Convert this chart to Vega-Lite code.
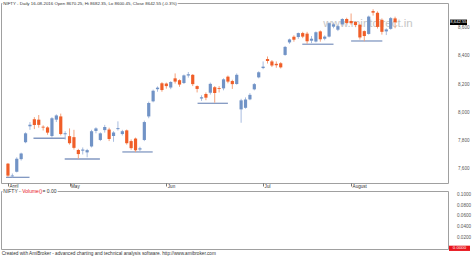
{
  "$schema": "https://vega.github.io/schema/vega-lite/v6.json",
  "background": "#ffffff",
  "padding": 0,
  "bounds": "flush",
  "spacing": 8,
  "config": {
    "view": {"stroke": "#a0a0a0", "strokeWidth": 1},
    "font": "Liberation Sans",
    "axis": {"labelFont": "Liberation Sans", "grid": false}
  },
  "datasets": {
    "ohlc": [
      {"idx": 0, "date": "2016-04-07", "open": 7640, "high": 7645, "low": 7545, "close": 7555},
      {"idx": 1, "date": "2016-04-08", "open": 7550, "high": 7570, "low": 7543, "close": 7556},
      {"idx": 2, "date": "2016-04-11", "open": 7582, "high": 7685, "low": 7578, "close": 7675},
      {"idx": 3, "date": "2016-04-12", "open": 7672, "high": 7718, "low": 7662, "close": 7712},
      {"idx": 4, "date": "2016-04-13", "open": 7792, "high": 7862, "low": 7785, "close": 7855},
      {"idx": 5, "date": "2016-04-18", "open": 7905, "high": 7935, "low": 7880, "close": 7916},
      {"idx": 6, "date": "2016-04-20", "open": 7955, "high": 7970, "low": 7885, "close": 7914},
      {"idx": 7, "date": "2016-04-21", "open": 7952, "high": 7985, "low": 7895, "close": 7915},
      {"idx": 8, "date": "2016-04-22", "open": 7902, "high": 7912, "low": 7875, "close": 7896},
      {"idx": 9, "date": "2016-04-25", "open": 7897, "high": 7905, "low": 7845, "close": 7860},
      {"idx": 10, "date": "2016-04-26", "open": 7836, "high": 7970, "low": 7822, "close": 7962},
      {"idx": 11, "date": "2016-04-27", "open": 7952, "high": 7990, "low": 7935, "close": 7982},
      {"idx": 12, "date": "2016-04-28", "open": 7975, "high": 7995, "low": 7840, "close": 7850},
      {"idx": 13, "date": "2016-04-29", "open": 7848, "high": 7870, "low": 7810, "close": 7856},
      {"idx": 14, "date": "2016-05-02", "open": 7835, "high": 7890, "low": 7775, "close": 7785},
      {"idx": 15, "date": "2016-05-03", "open": 7828, "high": 7880, "low": 7740, "close": 7752},
      {"idx": 16, "date": "2016-05-04", "open": 7737, "high": 7745, "low": 7675, "close": 7708},
      {"idx": 17, "date": "2016-05-05", "open": 7732, "high": 7755, "low": 7705, "close": 7740},
      {"idx": 18, "date": "2016-05-06", "open": 7720, "high": 7745, "low": 7685, "close": 7736},
      {"idx": 19, "date": "2016-05-09", "open": 7762, "high": 7880, "low": 7755, "close": 7870},
      {"idx": 20, "date": "2016-05-10", "open": 7872, "high": 7898, "low": 7855, "close": 7890},
      {"idx": 21, "date": "2016-05-11", "open": 7808, "high": 7862, "low": 7800, "close": 7855},
      {"idx": 22, "date": "2016-05-12", "open": 7878, "high": 7915, "low": 7860, "close": 7900},
      {"idx": 23, "date": "2016-05-13", "open": 7882, "high": 7895, "low": 7800, "close": 7815},
      {"idx": 24, "date": "2016-05-16", "open": 7836, "high": 7870, "low": 7795, "close": 7861},
      {"idx": 25, "date": "2016-05-17", "open": 7885, "high": 7940, "low": 7875, "close": 7892},
      {"idx": 26, "date": "2016-05-18", "open": 7850, "high": 7880, "low": 7840, "close": 7870},
      {"idx": 27, "date": "2016-05-19", "open": 7876, "high": 7882, "low": 7775, "close": 7785},
      {"idx": 28, "date": "2016-05-20", "open": 7800, "high": 7812, "low": 7738, "close": 7750},
      {"idx": 29, "date": "2016-05-23", "open": 7818, "high": 7825, "low": 7722, "close": 7735},
      {"idx": 30, "date": "2016-05-24", "open": 7740, "high": 7760, "low": 7728, "close": 7749},
      {"idx": 31, "date": "2016-05-25", "open": 7808, "high": 7945, "low": 7800, "close": 7935},
      {"idx": 32, "date": "2016-05-26", "open": 7975, "high": 8080, "low": 7962, "close": 8070},
      {"idx": 33, "date": "2016-05-27", "open": 8082, "high": 8165, "low": 8075, "close": 8157},
      {"idx": 34, "date": "2016-05-30", "open": 8168, "high": 8188, "low": 8150, "close": 8179},
      {"idx": 35, "date": "2016-05-31", "open": 8210, "high": 8218, "low": 8150, "close": 8162},
      {"idx": 36, "date": "2016-06-01", "open": 8208, "high": 8215, "low": 8172, "close": 8190},
      {"idx": 37, "date": "2016-06-02", "open": 8180, "high": 8225, "low": 8168, "close": 8219},
      {"idx": 38, "date": "2016-06-03", "open": 8245, "high": 8280, "low": 8208, "close": 8222},
      {"idx": 39, "date": "2016-06-06", "open": 8232, "high": 8238, "low": 8185, "close": 8201},
      {"idx": 40, "date": "2016-06-07", "open": 8212, "high": 8272, "low": 8205, "close": 8266},
      {"idx": 41, "date": "2016-06-08", "open": 8265, "high": 8290, "low": 8250, "close": 8274},
      {"idx": 42, "date": "2016-06-09", "open": 8270, "high": 8275, "low": 8190, "close": 8204},
      {"idx": 43, "date": "2016-06-10", "open": 8190, "high": 8195, "low": 8145, "close": 8170},
      {"idx": 44, "date": "2016-06-13", "open": 8102, "high": 8125, "low": 8085, "close": 8111},
      {"idx": 45, "date": "2016-06-14", "open": 8134, "high": 8145, "low": 8090, "close": 8108},
      {"idx": 46, "date": "2016-06-15", "open": 8143, "high": 8215, "low": 8130, "close": 8206},
      {"idx": 47, "date": "2016-06-16", "open": 8182, "high": 8190, "low": 8072, "close": 8141},
      {"idx": 48, "date": "2016-06-17", "open": 8176, "high": 8190, "low": 8145, "close": 8170},
      {"idx": 49, "date": "2016-06-20", "open": 8174, "high": 8245, "low": 8160, "close": 8238},
      {"idx": 50, "date": "2016-06-21", "open": 8257, "high": 8265, "low": 8210, "close": 8222},
      {"idx": 51, "date": "2016-06-22", "open": 8226, "high": 8235, "low": 8170, "close": 8204},
      {"idx": 52, "date": "2016-06-23", "open": 8205, "high": 8280, "low": 8200, "close": 8270},
      {"idx": 53, "date": "2016-06-24", "open": 8025, "high": 8100, "low": 7930, "close": 8089},
      {"idx": 54, "date": "2016-06-27", "open": 8036, "high": 8110, "low": 8030, "close": 8095},
      {"idx": 55, "date": "2016-06-28", "open": 8096, "high": 8140, "low": 8090, "close": 8128},
      {"idx": 56, "date": "2016-06-29", "open": 8167, "high": 8212, "low": 8160, "close": 8204},
      {"idx": 57, "date": "2016-06-30", "open": 8252, "high": 8295, "low": 8245, "close": 8288},
      {"idx": 58, "date": "2016-07-01", "open": 8318, "high": 8365, "low": 8310, "close": 8328},
      {"idx": 59, "date": "2016-07-04", "open": 8382, "high": 8400, "low": 8350, "close": 8368},
      {"idx": 60, "date": "2016-07-05", "open": 8365, "high": 8375, "low": 8325, "close": 8336},
      {"idx": 61, "date": "2016-07-07", "open": 8348, "high": 8365, "low": 8320, "close": 8338},
      {"idx": 62, "date": "2016-07-08", "open": 8352, "high": 8360, "low": 8315, "close": 8323},
      {"idx": 63, "date": "2016-07-11", "open": 8411, "high": 8475, "low": 8405, "close": 8468},
      {"idx": 64, "date": "2016-07-12", "open": 8500, "high": 8527, "low": 8490, "close": 8521},
      {"idx": 65, "date": "2016-07-13", "open": 8540, "high": 8550, "low": 8505, "close": 8519},
      {"idx": 66, "date": "2016-07-14", "open": 8538, "high": 8570, "low": 8525, "close": 8566},
      {"idx": 67, "date": "2016-07-15", "open": 8566, "high": 8575, "low": 8530, "close": 8541},
      {"idx": 68, "date": "2016-07-18", "open": 8562, "high": 8575, "low": 8490, "close": 8508},
      {"idx": 69, "date": "2016-07-19", "open": 8512, "high": 8545, "low": 8495, "close": 8526},
      {"idx": 70, "date": "2016-07-20", "open": 8506, "high": 8578, "low": 8500, "close": 8572},
      {"idx": 71, "date": "2016-07-21", "open": 8578, "high": 8585, "low": 8505, "close": 8522},
      {"idx": 72, "date": "2016-07-22", "open": 8526, "high": 8550, "low": 8515, "close": 8541},
      {"idx": 73, "date": "2016-07-25", "open": 8541, "high": 8642, "low": 8535, "close": 8636},
      {"idx": 74, "date": "2016-07-26", "open": 8612, "high": 8640, "low": 8600, "close": 8628},
      {"idx": 75, "date": "2016-07-27", "open": 8590, "high": 8625, "low": 8580, "close": 8615},
      {"idx": 76, "date": "2016-07-28", "open": 8628, "high": 8672, "low": 8620, "close": 8666},
      {"idx": 77, "date": "2016-07-29", "open": 8666, "high": 8675, "low": 8628, "close": 8638},
      {"idx": 78, "date": "2016-08-01", "open": 8652, "high": 8705, "low": 8625, "close": 8636},
      {"idx": 79, "date": "2016-08-02", "open": 8645, "high": 8650, "low": 8608, "close": 8623},
      {"idx": 80, "date": "2016-08-03", "open": 8625, "high": 8630, "low": 8520, "close": 8535},
      {"idx": 81, "date": "2016-08-04", "open": 8580, "high": 8585, "low": 8508, "close": 8545},
      {"idx": 82, "date": "2016-08-05", "open": 8560, "high": 8690, "low": 8555, "close": 8683},
      {"idx": 83, "date": "2016-08-08", "open": 8722, "high": 8735, "low": 8690, "close": 8711},
      {"idx": 84, "date": "2016-08-09", "open": 8710, "high": 8720, "low": 8598, "close": 8610},
      {"idx": 85, "date": "2016-08-10", "open": 8660, "high": 8670, "low": 8555, "close": 8575},
      {"idx": 86, "date": "2016-08-11", "open": 8578, "high": 8600, "low": 8552, "close": 8592},
      {"idx": 87, "date": "2016-08-12", "open": 8596, "high": 8680, "low": 8590, "close": 8672},
      {"idx": 88, "date": "2016-08-16", "open": 8670.25, "high": 8682.35, "low": 8600.45, "close": 8642.55}
    ],
    "supports": [
      {"start": -0.44, "end": 4.9, "level": 7543},
      {"start": 5.8, "end": 13.1, "level": 7820},
      {"start": 12.9, "end": 20.9, "level": 7673},
      {"start": 26, "end": 32.9, "level": 7723},
      {"start": 43.1, "end": 50, "level": 8068},
      {"start": 66.9, "end": 74, "level": 8487},
      {"start": 78, "end": 85.1, "level": 8510}
    ],
    "priceTicks": [
      {"level": 7600}, {"level": 7800}, {"level": 8000}, {"level": 8200}, {"level": 8400}, {"level": 8600}
    ],
    "volumeTicks": [
      {"vol": 0.02}, {"vol": 0.04}, {"vol": 0.06}, {"vol": 0.08}, {"vol": 0.1}
    ],
    "volume": [{"idx": 88, "vol": 0}]
  },
  "vconcat": [
    {
      "width": 447,
      "height": 180,
      "layer": [
        {
          "data": {"values": [{}]},
          "mark": {"type": "text", "text": "www.mintdirect.in", "fontSize": 11.5, "fill": "#b8b8b8", "opacity": 0.8, "align": "center", "baseline": "middle"},
          "encoding": {"x": {"value": 367}, "y": {"value": 21}}
        },
        {
          "data": {"name": "supports"},
          "mark": {"type": "rule", "color": "#8399c2", "strokeWidth": 1.3},
          "encoding": {
            "x": {
              "field": "start", "type": "quantitative",
              "scale": {"domain": [-0.444, 98.89], "nice": false, "zero": false},
              "axis": {
                "values": [0, 14, 36, 58, 78],
                "labelExpr": "datum.value == 0 ? 'April' : datum.value == 14 ? 'May' : datum.value == 36 ? 'Jun' : datum.value == 58 ? 'Jul' : 'August'",
                "title": null, "domain": false, "ticks": true, "tickSize": 3, "tickColor": "#555555", "tickWidth": 0.8,
                "labels": true, "labelAlign": "left", "labelBaseline": "top", "labelPadding": -2.5, "labelOffset": 1,
                "labelFontSize": 4.6, "labelColor": "#333333", "labelFlush": false, "labelOverlap": false, "grid": false
              }
            },
            "x2": {"field": "end"},
            "y": {
              "field": "level", "type": "quantitative",
              "scale": {"domain": [7502.8, 8779.4], "nice": false, "zero": false},
              "axis": null
            }
          }
        },
        {
          "data": {"name": "ohlc"},
          "mark": {"type": "rule", "strokeWidth": 1},
          "encoding": {
            "x": {"field": "idx", "type": "quantitative"},
            "y": {"field": "low", "type": "quantitative", "axis": null},
            "y2": {"field": "high"},
            "color": {"condition": {"test": "datum.close >= datum.open", "value": "#a9bde0"}, "value": "#f4a27c"}
          }
        },
        {
          "data": {"name": "ohlc"},
          "mark": {"type": "bar", "width": 3.2},
          "encoding": {
            "x": {"field": "idx", "type": "quantitative"},
            "y": {"field": "open", "type": "quantitative", "axis": null},
            "y2": {"field": "close"},
            "color": {"condition": {"test": "datum.close >= datum.open", "value": "#7193c6"}, "value": "#f05e28"}
          }
        },
        {
          "data": {"name": "priceTicks"},
          "mark": {"type": "text", "fill": "#555555", "fontSize": 4.6, "align": "left", "baseline": "middle"},
          "encoding": {
            "x": {"value": 457},
            "y": {"field": "level", "type": "quantitative", "axis": null},
            "text": {"field": "level", "type": "quantitative", "format": ",d"}
          }
        },
        {
          "data": {"name": "ohlc"},
          "transform": [{"filter": "datum.idx == 88"}],
          "mark": {"type": "point", "shape": "M-1,-0.32H1V0.32H-1Z", "size": 289, "filled": true, "color": "#000000", "opacity": 1, "strokeWidth": 0},
          "encoding": {"x": {"value": 457.5}, "y": {"field": "close", "type": "quantitative", "axis": null}}
        },
        {
          "data": {"name": "ohlc"},
          "transform": [{"filter": "datum.idx == 88"}],
          "mark": {"type": "text", "fill": "#ffffff", "fontSize": 4.2, "align": "center", "baseline": "middle"},
          "encoding": {
            "x": {"value": 457.5},
            "y": {"field": "close", "type": "quantitative", "axis": null},
            "text": {"field": "close", "type": "quantitative", "format": ",.2f"}
          }
        },
        {
          "data": {"values": [{}]},
          "mark": {"type": "text", "text": "NIFTY - Daily 16-08-2016 Open 8670.25, Hi 8682.35, Lo 8600.45, Close 8642.55 (-0.3%)", "fontSize": 4.4, "fill": "#ffffff", "stroke": "#ffffff", "strokeWidth": 2.5, "align": "left", "baseline": "middle"},
          "encoding": {"x": {"value": 2.3}, "y": {"value": 0.5}}
        },
        {
          "data": {"values": [{}]},
          "mark": {"type": "text", "text": "NIFTY - Daily 16-08-2016 Open 8670.25, Hi 8682.35, Lo 8600.45, Close 8642.55 (-0.3%)", "fontSize": 4.4, "fill": "#333333", "align": "left", "baseline": "middle"},
          "encoding": {"x": {"value": 2.3}, "y": {"value": 0.5}}
        }
      ]
    },
    {
      "width": 447,
      "height": 58,
      "layer": [
        {
          "data": {"name": "volume"},
          "mark": {"type": "point", "shape": "M-1,-0.25H1V0.25H-1Z", "size": 441, "filled": true, "color": "#e8141c", "opacity": 1, "strokeWidth": 0},
          "encoding": {
            "x": {"value": 458.5},
            "y": {
              "field": "vol", "type": "quantitative",
              "scale": {"domain": [-0.0013, 0.1071], "nice": false, "zero": false},
              "axis": null
            }
          }
        },
        {
          "data": {"name": "volume"},
          "mark": {"type": "text", "fill": "#ffffff", "fontSize": 4.4, "align": "center", "baseline": "middle"},
          "encoding": {
            "x": {"value": 458.5},
            "y": {"field": "vol", "type": "quantitative", "axis": null},
            "text": {"field": "vol", "type": "quantitative", "format": ".4f"}
          }
        },
        {
          "data": {"name": "volumeTicks"},
          "mark": {"type": "text", "fill": "#555555", "fontSize": 4.6, "align": "left", "baseline": "middle"},
          "encoding": {
            "x": {"value": 456},
            "y": {"field": "vol", "type": "quantitative", "axis": null},
            "text": {"field": "vol", "type": "quantitative", "format": ".4f"}
          }
        },
        {
          "data": {"values": [{}]},
          "mark": {"type": "text", "text": "NIFTY - ", "fontSize": 5, "fill": "#ffffff", "stroke": "#ffffff", "strokeWidth": 2.5, "align": "left", "baseline": "middle"},
          "encoding": {"x": {"value": 2.3}, "y": {"value": 0.3}}
        },
        {
          "data": {"values": [{}]},
          "mark": {"type": "text", "text": "Volume()", "fontSize": 5, "fill": "#ffffff", "stroke": "#ffffff", "strokeWidth": 2.5, "align": "left", "baseline": "middle"},
          "encoding": {"x": {"value": 21.2}, "y": {"value": 0.3}}
        },
        {
          "data": {"values": [{}]},
          "mark": {"type": "text", "text": " = 0.00", "fontSize": 5, "fill": "#ffffff", "stroke": "#ffffff", "strokeWidth": 2.5, "align": "left", "baseline": "middle"},
          "encoding": {"x": {"value": 41.5}, "y": {"value": 0.3}}
        },
        {
          "data": {"values": [{}]},
          "mark": {"type": "text", "text": "NIFTY - ", "fontSize": 5, "fill": "#333333", "align": "left", "baseline": "middle"},
          "encoding": {"x": {"value": 2.3}, "y": {"value": 0.3}}
        },
        {
          "data": {"values": [{}]},
          "mark": {"type": "text", "text": "Volume()", "fontSize": 5, "fill": "#e8141c", "align": "left", "baseline": "middle"},
          "encoding": {"x": {"value": 21.2}, "y": {"value": 0.3}}
        },
        {
          "data": {"values": [{}]},
          "mark": {"type": "text", "text": " = 0.00", "fontSize": 5, "fill": "#333333", "align": "left", "baseline": "middle"},
          "encoding": {"x": {"value": 41.5}, "y": {"value": 0.3}}
        },
        {
          "data": {"values": [{}]},
          "mark": {"type": "text", "text": "Created with AmiBroker - advanced charting and technical analysis software. http://www.amibroker.com", "fontSize": 4.7, "fill": "#333333", "align": "left", "baseline": "middle"},
          "encoding": {"x": {"value": 0.7}, "y": {"value": 63}}
        }
      ]
    }
  ]
}
